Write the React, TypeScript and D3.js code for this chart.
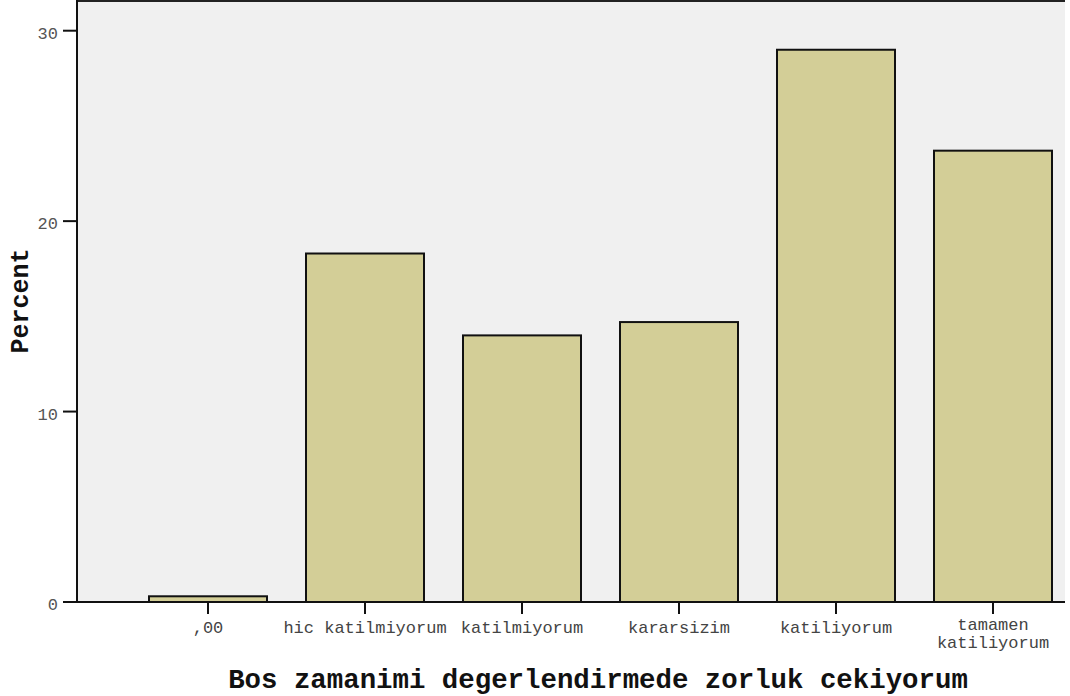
import React from "react";
import * as d3 from "d3";

const categories: string[][] = [
  [",00"],
  ["hic katilmiyorum"],
  ["katilmiyorum"],
  ["kararsizim"],
  ["katiliyorum"],
  ["tamamen", "katiliyorum"],
];
const percents: number[] = [0.3, 18.3, 14.0, 14.7, 29.0, 23.7];
const yTicks: number[] = [0, 10, 20, 30];
const xTitle = "Bos zamanimi degerlendirmede zorluk cekiyorum";
const yTitle = "Percent";

const W = 1070;
const H = 696;
const plotLeft = 77;
const plotRight = 1065;
const plotTop = 1;
const plotBottom = 602;
const mono = "'Liberation Mono', 'Courier New', monospace";

export default function App() {
  const keys = categories.map((c) => c.join(" "));
  const x = d3
    .scaleBand<string>()
    .domain(keys)
    .range([149, 1052])
    .paddingInner(39 / 157)
    .paddingOuter(0);
  const y = d3.scaleLinear().domain([0, 30]).range([plotBottom, 30.7]);

  return (
    <svg
      width={W}
      height={H}
      style={{ position: "absolute", left: 0, top: 0, background: "#fff" }}
    >
      <rect
        x={plotLeft}
        y={plotTop}
        width={plotRight - plotLeft}
        height={plotBottom - plotTop}
        fill="#f0f0f0"
      />
      <line x1={plotLeft} x2={plotRight} y1={plotTop} y2={plotTop} stroke="#222" strokeWidth={2} />
      {keys.map((k, i) => (
        <rect
          key={k}
          x={x(k)!}
          y={y(percents[i])}
          width={x.bandwidth()}
          height={plotBottom - y(percents[i])}
          fill="#d3ce97"
          stroke="#111"
          strokeWidth={2}
        />
      ))}
      {/* y axis */}
      <line x1={plotLeft} x2={plotLeft} y1={0} y2={plotBottom + 1} stroke="#111" strokeWidth={2} />
      {yTicks.map((t) => (
        <g key={t}>
          <line x1={63} x2={plotLeft} y1={y(t)} y2={y(t)} stroke="#111" strokeWidth={2} />
          <text
            x={58}
            y={y(t) + 8}
            textAnchor="end"
            fontFamily={mono}
            fontSize={17}
            fill="#555"
          >
            {t}
          </text>
        </g>
      ))}
      {/* x axis */}
      <line x1={plotLeft - 1} x2={plotRight} y1={plotBottom} y2={plotBottom} stroke="#111" strokeWidth={2} />
      {keys.map((k, i) => {
        const cx = x(k)! + x.bandwidth() / 2;
        const n = categories[i].length;
        return (
          <g key={k}>
            <line x1={cx} x2={cx} y1={plotBottom} y2={614} stroke="#111" strokeWidth={2} />
            {categories[i].map((line, j) => (
              <text
                key={j}
                x={cx}
                y={(n > 1 ? 630 : 633) + j * 18}
                textAnchor="middle"
                fontFamily={mono}
                fontSize={17}
                fill="#444"
              >
                {line}
              </text>
            ))}
          </g>
        );
      })}
      <text
        x={598}
        y={688}
        textAnchor="middle"
        fontFamily={mono}
        fontWeight="bold"
        fontSize={27.4}
        fill="#111"
      >
        {xTitle}
      </text>
      <text
        transform={`translate(28, ${301}) rotate(-90)`}
        textAnchor="middle"
        fontFamily={mono}
        fontWeight="bold"
        fontSize={25}
        fill="#111"
      >
        {yTitle}
      </text>
    </svg>
  );
}
